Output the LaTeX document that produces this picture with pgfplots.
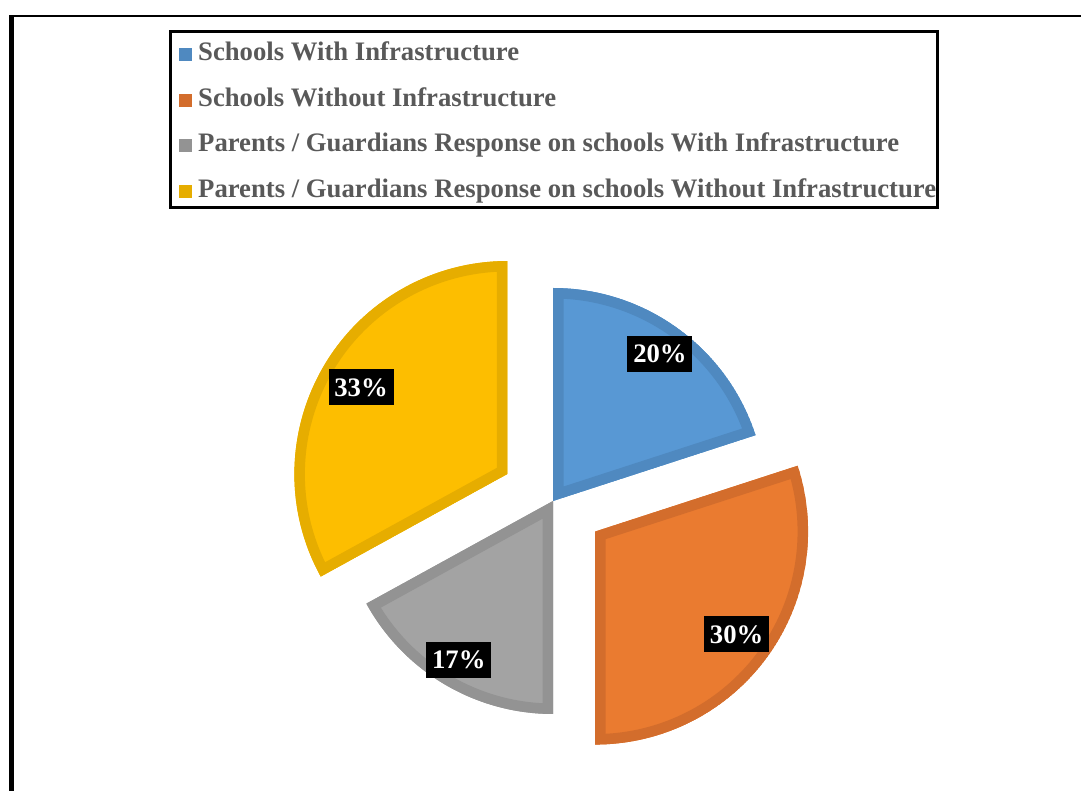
\documentclass[border=0pt]{standalone}
\usepackage{pgfplots}
\pgfplotsset{compat=1.18}
\usepackage{pgfplotstable}
\usepackage{fontspec}
\setmainfont{Liberation Serif}

\definecolor{blueF}{HTML}{5898D4}
\definecolor{blueD}{HTML}{4F89C0}
\definecolor{orangeF}{HTML}{EA7B30}
\definecolor{orangeD}{HTML}{D36D2C}
\definecolor{grayF}{HTML}{A3A3A3}
\definecolor{grayD}{HTML}{939393}
\definecolor{yellowF}{HTML}{FDBE00}
\definecolor{yellowD}{HTML}{E6AD00}
\definecolor{legtext}{HTML}{595959}

\newcommand\legfont{\fontsize{26.7}{32}\selectfont\bfseries}
\newcommand\labfont{\fontsize{26.7}{30}\selectfont\bfseries}

% value = percentage, explode = offset of slice (px), labr = label distance from slice tip
\pgfplotstableread{
idx value explode labr fc dc
0 20 0 182 blueF blueD
1 30 52 175 orangeF orangeD
2 17 0 185 grayF grayD
3 33 53 170 yellowF yellowD
}\piedata

\begin{document}
\begin{tikzpicture}
\useasboundingbox (0,0) rectangle (1081pt,790pt);
\gdef\cum{90}
\foreach \i in {0,...,3}{%
  \pgfplotstablegetelem{\i}{value}\of\piedata \let\v\pgfplotsretval
  \pgfplotstablegetelem{\i}{explode}\of\piedata \let\ex\pgfplotsretval
  \pgfplotstablegetelem{\i}{labr}\of\piedata \let\lb\pgfplotsretval
  \pgfplotstablegetelem{\i}{fc}\of\piedata \let\fc\pgfplotsretval
  \pgfplotstablegetelem{\i}{dc}\of\piedata \let\dc\pgfplotsretval
  \pgfmathsetmacro\ea{\cum-3.6*\v}%
  \pgfmathsetmacro\md{(\cum+\ea)/2}%
  \pgfmathsetmacro\lr{\ex+\lb}%
  \expandafter\xdef\csname pieSA\i\endcsname{\cum}%
  \expandafter\xdef\csname pieEA\i\endcsname{\ea}%
  \expandafter\xdef\csname pieMD\i\endcsname{\md}%
  \expandafter\xdef\csname pieEX\i\endcsname{\ex}%
  \expandafter\xdef\csname pieLR\i\endcsname{\lr}%
  \expandafter\xdef\csname pieV\i\endcsname{\v}%
  \expandafter\xdef\csname pieFC\i\endcsname{\fc}%
  \expandafter\xdef\csname pieDC\i\endcsname{\dc}%
  \xdef\cum{\ea}%
}
\begin{axis}[at={(0,0)}, anchor=south west, scale only axis,
  width=1081pt, height=790pt,
  xmin=0, xmax=1081, ymin=0, ymax=790, hide axis, clip=true]
% frame
\draw[line width=4.5pt] (axis cs:11.7,-10) -- (axis cs:11.7,775.2);
\draw[line width=2.5pt] (axis cs:9.5,774) -- (axis cs:1100,774);
% slices
\pgfplotsinvokeforeach{0,1,2,3}{
  \edef\slicepath{([shift={(\csname pieMD#1\endcsname:\csname pieEX#1\endcsname pt)}]axis cs:553,289) -- ++(\csname pieSA#1\endcsname:213pt)
    arc[start angle=\csname pieSA#1\endcsname, end angle=\csname pieEA#1\endcsname, radius=213pt] -- cycle}
  \edef\slicecmd{\noexpand\begin{scope}
    \noexpand\clip \slicepath;
    \noexpand\filldraw[fill=\csname pieFC#1\endcsname, draw=\csname pieDC#1\endcsname, line width=21pt, line join=miter] \slicepath;
    \noexpand\end{scope}}
  \slicecmd
}
% labels
\pgfplotsinvokeforeach{0,1,2,3}{
  \edef\labcmd{\noexpand\node[fill=black, text=white, font=\noexpand\labfont, minimum width=65pt, minimum height=36pt, inner sep=0pt]
    at ([shift={(\csname pieMD#1\endcsname:\csname pieLR#1\endcsname pt)}]axis cs:553,289) {\csname pieV#1\endcsname\noexpand\%};}
  \labcmd
}
% legend
\draw[line width=3pt] (axis cs:170,758) rectangle (axis cs:937,582);
\fill[blueD] (axis cs:179,728.5) rectangle (axis cs:192,741.5);
\fill[orangeD] (axis cs:179,683) rectangle (axis cs:192,696);
\fill[grayD] (axis cs:179,637.5) rectangle (axis cs:192,650.5);
\fill[yellowD] (axis cs:179,592) rectangle (axis cs:192,605);
\node[anchor=base west, inner sep=0pt, text=legtext, font=\legfont] at (axis cs:198,729) {Schools With Infrastructure};
\node[anchor=base west, inner sep=0pt, text=legtext, font=\legfont] at (axis cs:198,683.5) {Schools Without Infrastructure};
\node[anchor=base west, inner sep=0pt, text=legtext, font=\legfont] at (axis cs:198,638) {Parents / Guardians Response on schools With Infrastructure};
\node[anchor=base west, inner sep=0pt, text=legtext, font=\legfont] at (axis cs:198,592.5) {Parents / Guardians Response on schools Without Infrastructure};
\end{axis}
\end{tikzpicture}
\end{document}
